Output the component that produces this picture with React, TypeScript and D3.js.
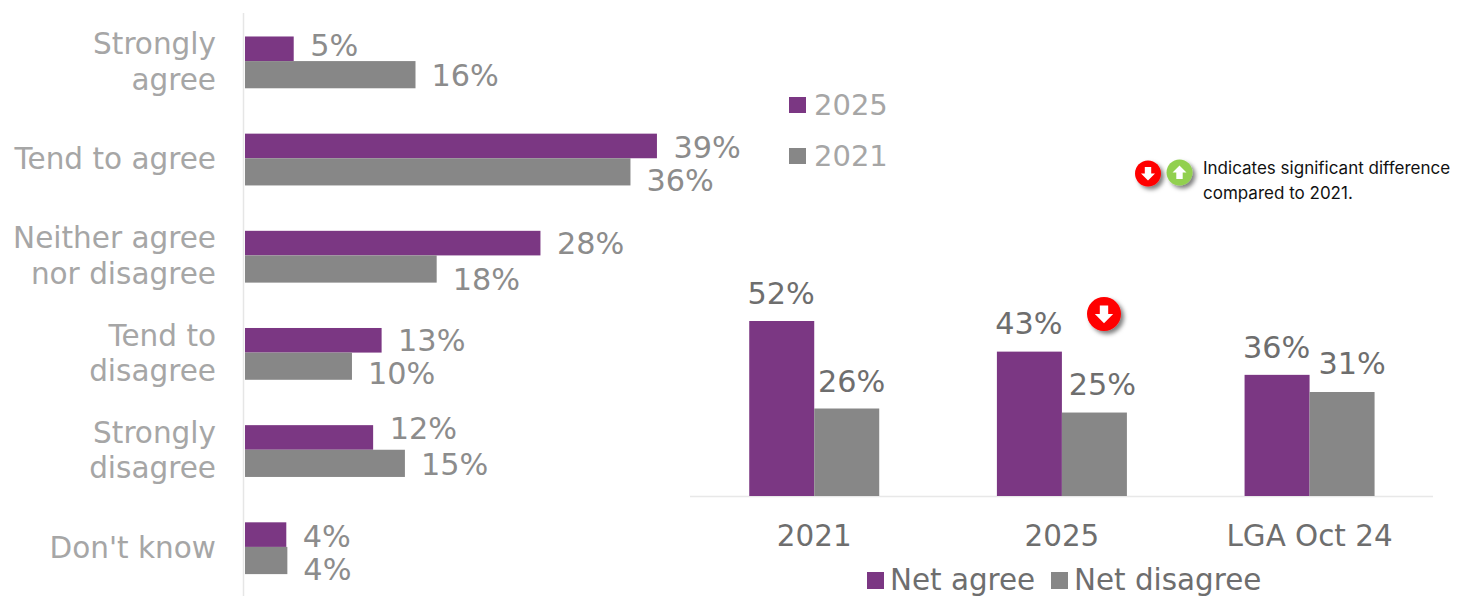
import React from "react";
import * as d3 from "d3";

const PURPLE = "#7b3783";
const GREY = "#878787";
const FONT = "'DejaVu Sans', Verdana, sans-serif";

// Response breakdown
const responses = ["Strongly agree", "Tend to agree", "Neither agree nor disagree", "Tend to disagree", "Strongly disagree", "Don't know"];
const responseLines = [["Strongly", "agree"], ["Tend to agree"], ["Neither agree", "nor disagree"], ["Tend to", "disagree"], ["Strongly", "disagree"], ["Don't know"]];
const values2025 = [4.6, 38.9, 27.9, 12.9, 12.1, 3.9];
const values2021 = [16.1, 36.4, 18.1, 10.1, 15.1, 4.0];

// Summary comparison
const periods = ["2021", "2025", "LGA Oct 24"];
const netAgree = [52, 42.9, 36];
const netDisagree = [26, 24.8, 30.9];

// Hand-placed label baselines, relative to each row's centre line
const baseline2025 = [-5, 0, -1, -2, -11, 0];
const baseline2021 = [25, 33, 35, 31, 25, 33];
// Sideways nudge that keeps the disagree labels clear of their neighbours
const disagreeNudge = [5, 8, 10];
const agreeLift = [17, 18, 17];
const disagreeLift = [17, 18, 18];

const pct = d3.format(".0f");

const x = d3.scaleLinear().domain([0, 39]).range([245, 658]);
const y = d3.scaleBand<string>().domain(responses).range([12.5, 595.5]);
const x0 = d3.scaleBand<string>().domain(periods).range([690.4, 1433.4]);
const yNet = d3.scaleLinear().domain([0, 52]).range([496, 321]);

function Badge({ cx, cy, r, fill, up, shadow }: { cx: number; cy: number; r: number; fill: string; up: boolean; shadow: string }) {
  const s = r / 13;
  const arrow = d3.path();
  const dir = up ? -1 : 1;
  arrow.moveTo(-3.2 * s, -6.5 * dir * s);
  arrow.lineTo(3.2 * s, -6.5 * dir * s);
  arrow.lineTo(3.2 * s, 0);
  arrow.lineTo(7 * s, 0);
  arrow.lineTo(0, 7 * dir * s);
  arrow.lineTo(-7 * s, 0);
  arrow.lineTo(-3.2 * s, 0);
  arrow.closePath();
  return (
    <g transform={`translate(${cx},${cy})`}>
      <circle r={r} fill={fill} filter={`url(#${shadow})`} />
      <path d={arrow.toString()} fill="#fff" />
    </g>
  );
}

export default function App() {
  const inner = y.bandwidth();
  const rowCentre = (c: string) => (y(c) as number) + inner / 2;
  const barH1 = 24.6;
  const barH2 = 27.2;
  const legendKeys: [string, string, number, number][] = [
    ["2025", PURPLE, 789, 97],
    ["2021", GREY, 789, 148],
  ];
  const netKeys: [string, string, number, number][] = [
    ["Net agree", PURPLE, 867, 572],
    ["Net disagree", GREY, 1051, 572],
  ];
  return (
    <svg width={1469} height={596} viewBox="0 0 1469 596" style={{ position: "fixed", left: 0, top: 0, background: "#fff" }} fontFamily={FONT}>
      <defs>
        <filter id="soft" x="-60%" y="-60%" width="220%" height="220%">
          <feDropShadow dx="3" dy="3" stdDeviation="2.2" floodColor="#000" floodOpacity="0.5" />
        </filter>
      </defs>

      {/* Response breakdown */}
      <line x1={243.5} x2={243.5} y1={13} y2={596} stroke="#e6e6e6" strokeWidth={1.5} />
      {responses.map((c, i) => {
        const cy = rowCentre(c);
        const lines = responseLines[i];
        const labelY = lines.length === 1 ? [cy + 11] : [cy - 7, cy + 28.5];
        return (
          <g key={c}>
            {lines.map((t, j) => (
              <text key={t} x={216} y={labelY[j]} textAnchor="end" fontSize={29.5} fill="#a6a6a6">{t}</text>
            ))}
            <rect x={x(0)} y={cy - barH1} width={x(values2025[i]) - x(0)} height={barH1} fill={PURPLE} />
            <rect x={x(0)} y={cy} width={x(values2021[i]) - x(0)} height={barH2} fill={GREY} />
            <text x={x(values2025[i]) + 16.5} y={cy + baseline2025[i]} fontSize={30.3} fill="#8c8c8c">{pct(values2025[i])}%</text>
            <text x={x(values2021[i]) + 16} y={cy + baseline2021[i]} fontSize={30.3} fill="#8c8c8c">{pct(values2021[i])}%</text>
          </g>
        );
      })}

      {legendKeys.map(([t, c, lx, ly]) => (
        <g key={t}>
          <rect x={lx} y={ly} width={17} height={16} fill={c} />
          <text x={lx + 25} y={ly + 18} fontSize={29} fill="#a6a6a6">{t}</text>
        </g>
      ))}

      {/* Significance key */}
      <Badge cx={1148} cy={173.5} r={13} fill="#ff0000" up={false} shadow="soft" />
      <Badge cx={1179.5} cy={172.5} r={13} fill="#92d050" up={true} shadow="soft" />
      <text fontFamily="Inter, 'Noto Sans', sans-serif" fontSize={17} fill="#111">
        <tspan x={1203} y={174}>Indicates significant difference</tspan>
        <tspan x={1203} y={199}>compared to 2021.</tspan>
      </text>

      {/* Summary comparison */}
      <line x1={690} x2={1433} y1={496.5} y2={496.5} stroke="#e8e8e8" strokeWidth={1.5} />
      {periods.map((p, i) => {
        const bx = (x0(p) as number) + x0.bandwidth() / 2;
        return (
          <g key={p}>
            <rect x={bx - 65} y={yNet(netAgree[i])} width={65} height={496 - yNet(netAgree[i])} fill={PURPLE} />
            <rect x={bx} y={yNet(netDisagree[i])} width={65} height={496 - yNet(netDisagree[i])} fill={GREY} />
            <text x={bx - 33} y={yNet(netAgree[i]) - agreeLift[i]} textAnchor="middle" fontSize={30.3} fill="#6e6e6e">{pct(netAgree[i])}%</text>
            <text x={bx + 32.5 + disagreeNudge[i]} y={yNet(netDisagree[i]) - disagreeLift[i]} textAnchor="middle" fontSize={30.3} fill="#6e6e6e">{pct(netDisagree[i])}%</text>
            <text x={bx} y={546} textAnchor="middle" fontSize={29.4} fill="#6e6e6e">{p}</text>
          </g>
        );
      })}
      <Badge cx={1104} cy={314} r={17} fill="#ff0000" up={false} shadow="soft" />
      {netKeys.map(([t, c, lx, ly]) => (
        <g key={t}>
          <rect x={lx} y={ly} width={17} height={17} fill={c} />
          <text x={lx + 23} y={ly + 18} fontSize={29.4} fill="#6e6e6e">{t}</text>
        </g>
      ))}
    </svg>
  );
}
